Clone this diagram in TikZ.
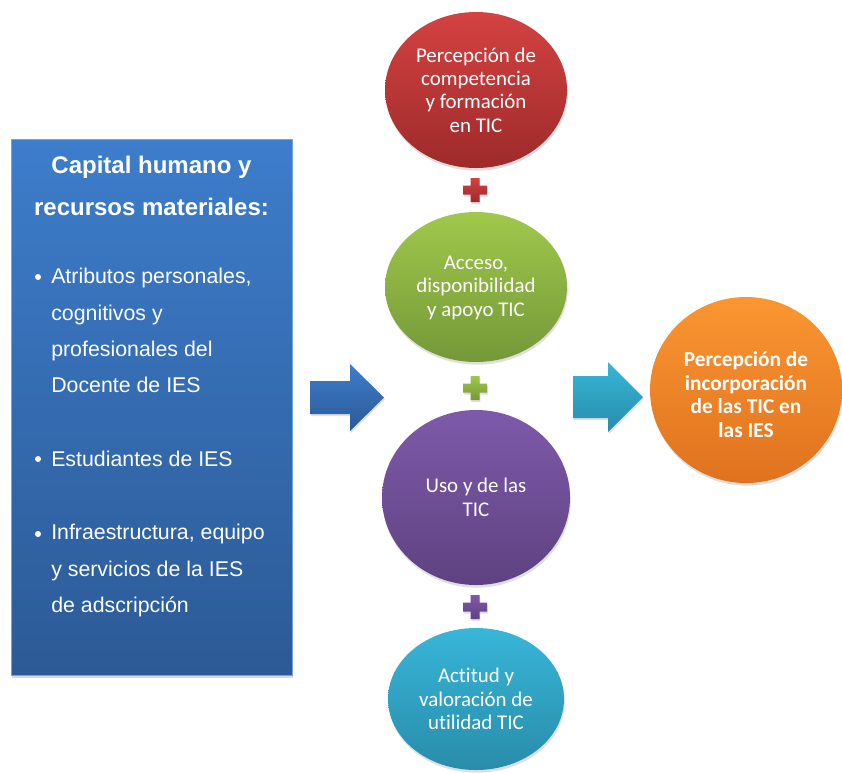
\documentclass[tikz,border=0pt]{standalone}
\usepackage{fontspec}
\setmainfont{Carlito}[Ligatures=NoCommon]
\newfontfamily\boxfont{Liberation Sans}
\usepackage{tikz}
\usetikzlibrary{shapes.geometric, shadows, positioning}

\definecolor{boxtop}{RGB}{61,125,203}
\definecolor{boxbot}{RGB}{44,90,150}
\definecolor{redtop}{RGB}{212,66,66}
\definecolor{redbot}{RGB}{158,42,42}
\definecolor{greentop}{RGB}{160,200,75}
\definecolor{greenbot}{RGB}{116,152,56}
\definecolor{violettop}{RGB}{126,90,170}
\definecolor{violetbot}{RGB}{94,66,128}
\definecolor{cyantop}{RGB}{56,182,216}
\definecolor{cyanbot}{RGB}{40,140,170}
\definecolor{orangetop}{RGB}{250,150,50}
\definecolor{orangebot}{RGB}{224,114,30}

\begin{document}
\begin{tikzpicture}[x=0.75pt, y=-0.75pt,
        bubble/.style={ellipse, inner sep=0pt, text=white, align=center,
            font=\fontsize{15.7}{17.6}\selectfont,
            drop shadow={opacity=0.25, shadow xshift=0.6pt, shadow yshift=-2pt}},
        panel/.style={rectangle, inner sep=0pt, top color=boxtop, bottom color=boxbot,
            draw=boxtop!70!white, line width=0.6pt,
            drop shadow={opacity=0.3, shadow xshift=1pt, shadow yshift=-2.5pt}},
        heading/.style={text=white, align=center, inner sep=0pt,
            font=\boxfont\bfseries\fontsize{18}{31.5}\selectfont},
        itemtext/.style={text=white, align=left, inner sep=0pt,
            font=\boxfont\fontsize{16}{27.2}\selectfont},
        dot/.style={circle, fill=white, inner sep=0pt, minimum size=4.5pt},
        blockarrow/.style={drop shadow={opacity=0.25, shadow xshift=0.6pt, shadow yshift=-1.5pt}}]

    \useasboundingbox (0,0) rectangle (842,772);

    % Left panel
    \node [panel, minimum width=210.75pt, minimum height=402pt] (capital) at (151.5,407) {};
    \node [heading] (titulo) at (151.5,186) {Capital humano y\\recursos materiales:};
    \node [itemtext, anchor=west] (atributos) at (51,330.5) {Atributos personales,\\cognitivos y\\profesionales del\\Docente de IES};
    \node [itemtext, anchor=west] (estudiantes) at (51,459) {Estudiantes de IES};
    \node [itemtext, anchor=west] (infra) at (51,570.5) {Infraestructura, equipo\\y servicios de la IES\\de adscripción};
    \node [dot] (d1) at (38,277) {};
    \node [dot] (d2) at (38,459) {};
    \node [dot] (d3) at (38,534) {};

    % Central column
    \node [bubble, top color=redtop, bottom color=redbot, minimum width=136.5pt, minimum height=117pt] (competencia) at (476,90) {Percepción de\\competencia\\y formación\\en TIC};
    \node [bubble, top color=greentop, bottom color=greenbot, minimum width=136.5pt, minimum height=112.5pt] (acceso) at (476,287) {\rule{0pt}{11pt}Acceso,\\disponibilidad\\y apoyo TIC};
    \node [bubble, top color=violettop, bottom color=violetbot, minimum width=141pt, minimum height=131.25pt] (uso) at (476,497.5) {Uso y de las\\TIC};
    \node [bubble, top color=cyantop, bottom color=cyanbot, minimum width=132pt, minimum height=106.5pt] (actitud) at (476,699) {\rule{0pt}{11pt}Actitud y\\valoración de\\utilidad TIC};

    % Result
    \node [bubble, top color=orangetop, bottom color=orangebot, minimum width=144pt, minimum height=139.5pt, font=\bfseries\fontsize{16}{17.8}\selectfont] (incorporacion) at (746,390) {\rule{0pt}{18pt}Percepción de\\incorporación\\de las TIC en\\las IES};

    % Plus signs
    \foreach \py/\ctop/\cbot in {190/redtop/redbot, 388/greentop/greenbot, 607/violettop/violetbot}
        \path [blockarrow, top color=\ctop, bottom color=\cbot, shift={(475,\py)}]
            (-4.5,-12) -- (4.5,-12) -- (4.5,-4.5) -- (12,-4.5) -- (12,4.5) -- (4.5,4.5)
            -- (4.5,12) -- (-4.5,12) -- (-4.5,4.5) -- (-12,4.5) -- (-12,-4.5) -- (-4.5,-4.5) -- cycle;

    % Block arrows
    \path [blockarrow, top color=boxtop, bottom color=boxbot]
        (310,381) -- (350,381) -- (350,364) -- (384,397.5) -- (350,431) -- (350,414) -- (310,414) -- cycle;
    \path [blockarrow, top color=cyantop, bottom color=cyanbot]
        (573,376) -- (608,376) -- (608,362) -- (643,397) -- (608,432) -- (608,418) -- (573,418) -- cycle;
\end{tikzpicture}
\end{document}
